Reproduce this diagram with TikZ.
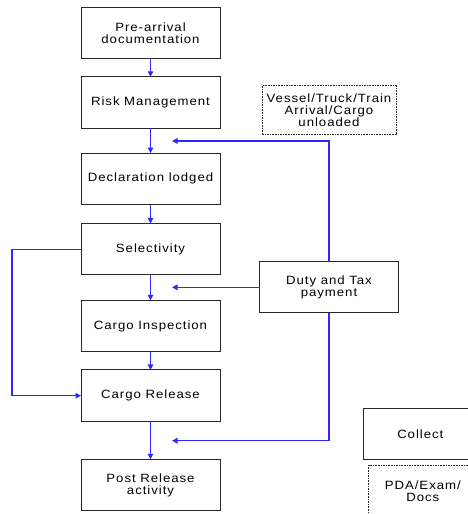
\documentclass[tikz,border=0pt]{standalone}
\usepackage{fontspec}
\setmainfont{Liberation Sans}[LetterSpace=8,FakeStretch=1.1]
\usetikzlibrary{arrows.meta}
\definecolor{flowblue}{RGB}{40,40,255}
\definecolor{boxline}{RGB}{40,40,40}
\tikzset{
  stepbox/.style={draw=boxline, line width=1pt, fill=white, minimum width=139pt, minimum height=51.5pt,
    inner sep=0pt, outer sep=0pt, align=center, font=\fontsize{12}{11.9}\selectfont},
  notebox/.style={stepbox, dash pattern=on 1.6pt off 1pt, line width=0.8pt},
  flow/.style={draw=flowblue, line width=1.3pt, -{Triangle[length=5.5pt,width=5.5pt]}},
}
\begin{document}
\begin{tikzpicture}[x=1pt,y=-1pt]
\useasboundingbox (0,0) rectangle (468,514);
\clip (0,0) rectangle (468,514);
% main column
\node[stepbox] (pre)  at (150.5,32.8)  {Pre-arrival\\documentation};
\node[stepbox] (risk) at (150.5,102.5) {Risk Management};
\node[stepbox] (decl) at (150.5,178.8) {Declaration lodged};
\node[stepbox] (sel)  at (150.5,249.2) {Selectivity};
\node[stepbox] (insp) at (150.5,326)   {Cargo Inspection};
\node[stepbox] (rel)  at (150.5,395.7) {Cargo Release};
\node[stepbox] (post) at (150.5,485)   {Post Release\\activity};
% side boxes
\node[notebox, minimum width=134pt, minimum height=49pt] (vessel) at (329,110.2) {Vessel/Truck/Train\\Arrival/Cargo\\unloaded};
\node[stepbox, minimum width=138.6pt, minimum height=51.3pt] (duty) at (329,287.3) {Duty and Tax\\payment};
\node[stepbox, minimum width=114pt, minimum height=51.3pt] (collect) at (420.3,434.3) {Collect};
\node[notebox, minimum width=108.5pt, minimum height=51.4pt] (pda) at (422.8,491) {PDA/Exam/\\Docs};
% helper coordinates
\coordinate (t1) at (172,141);
\coordinate (c1) at (329,141);
\coordinate (t2) at (172,287.3);
\coordinate (t3) at (172,440.7);
\coordinate (c3) at (329,440.7);
\coordinate (l1) at (12,249.2);
\coordinate (l2) at (12,395.7);
% vertical flow
\draw[flow] (pre) -- (risk);
\draw[flow] (risk) -- (decl);
\draw[flow] (decl) -- (sel);
\draw[flow] (sel) -- (insp);
\draw[flow] (insp) -- (rel);
\draw[flow] (rel) -- (post);
% duty connections
\draw[flow] (duty.north) -- (c1) -- (t1);
\draw[flow] (duty.west) -- (t2);
\draw[flow] (duty.south) -- (c3) -- (t3);
% bypass loop
\draw[flow] (sel.west) -- (l1) -- (l2) -- (rel.west);
\end{tikzpicture}
\end{document}
